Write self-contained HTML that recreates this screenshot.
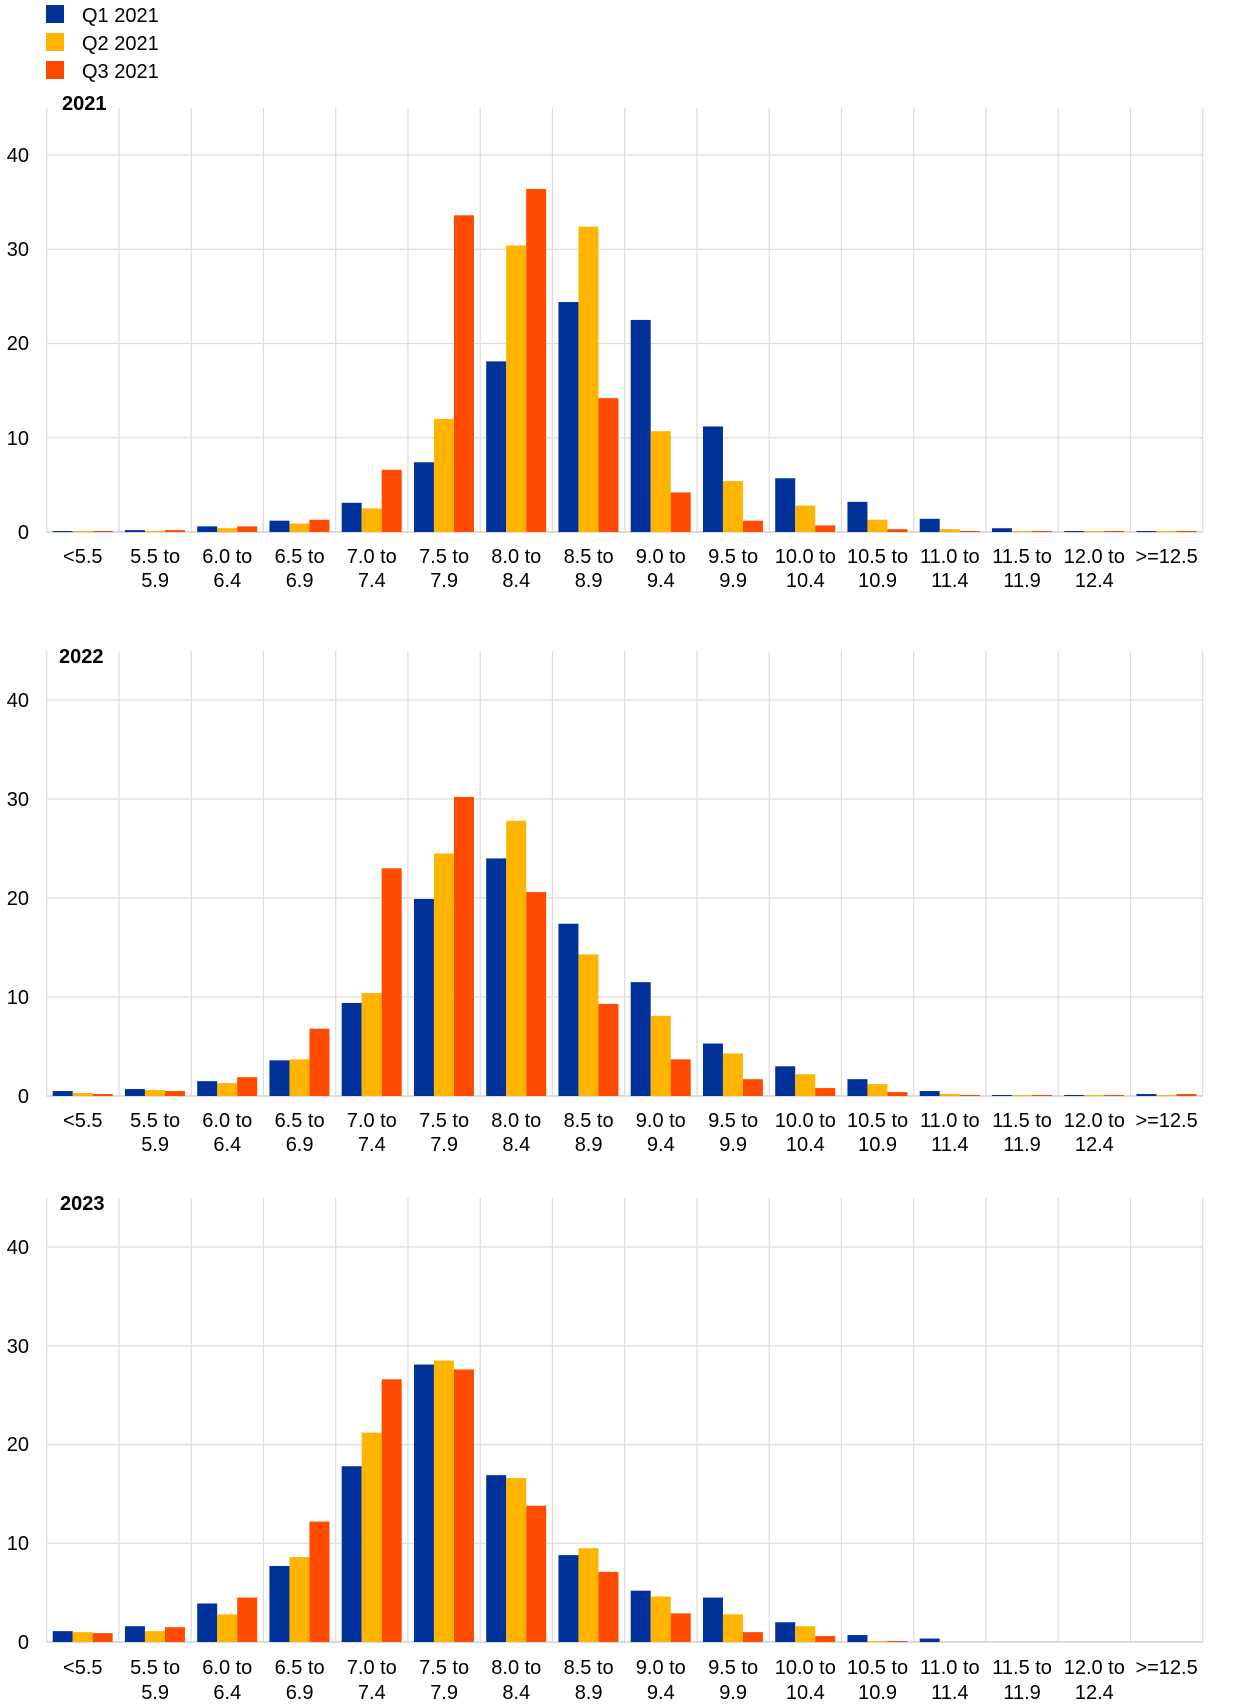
<!DOCTYPE html>
<html><head><meta charset="utf-8"><style>
html,body{margin:0;padding:0;background:#fff;}
svg{display:block;}
text{font-family:"Liberation Sans",Arial,sans-serif;fill:#000;}
.t{font-size:20px;text-anchor:middle;}
.y{font-size:20px;text-anchor:end;}
.h{font-size:20px;font-weight:bold;}
</style></head><body>
<svg id="s" width="1240" height="1708" viewBox="0 0 1240 1708" xmlns="http://www.w3.org/2000/svg">
<rect x="46" y="5" width="18" height="18" fill="#003299"/>
<rect x="46" y="33" width="18" height="18" fill="#ffb400"/>
<rect x="46" y="61" width="18" height="18" fill="#ff4b00"/>
<text x="82" y="22" style="font-size:20px">Q1 2021</text>
<text x="82" y="50" style="font-size:20px">Q2 2021</text>
<text x="82" y="78" style="font-size:20px">Q3 2021</text>
<g id="grid"></g>
<g id="bars"></g>
<text class="h" x="62" y="110">2021</text>
<text class="h" x="59" y="663">2022</text>
<text class="h" x="60" y="1210">2023</text>
<g>
<text class="y" x="29" y="162">40</text><text class="y" x="29" y="256">30</text><text class="y" x="29" y="350">20</text><text class="y" x="29" y="445">10</text><text class="y" x="29" y="539">0</text>
</g>
<g>
<text class="y" x="29" y="707">40</text><text class="y" x="29" y="806">30</text><text class="y" x="29" y="905">20</text><text class="y" x="29" y="1004">10</text><text class="y" x="29" y="1103">0</text>
</g>
<g>
<text class="y" x="29" y="1254">40</text><text class="y" x="29" y="1353">30</text><text class="y" x="29" y="1451">20</text><text class="y" x="29" y="1550">10</text><text class="y" x="29" y="1649">0</text>
</g>
<g transform="translate(0,532)">
<text class="t" x="82.8" y="31">&lt;5.5</text>
<text class="t" x="155.1" y="31">5.5 to</text><text class="t" x="155.1" y="55">5.9</text>
<text class="t" x="227.3" y="31">6.0 to</text><text class="t" x="227.3" y="55">6.4</text>
<text class="t" x="299.6" y="31">6.5 to</text><text class="t" x="299.6" y="55">6.9</text>
<text class="t" x="371.8" y="31">7.0 to</text><text class="t" x="371.8" y="55">7.4</text>
<text class="t" x="444.1" y="31">7.5 to</text><text class="t" x="444.1" y="55">7.9</text>
<text class="t" x="516.3" y="31">8.0 to</text><text class="t" x="516.3" y="55">8.4</text>
<text class="t" x="588.6" y="31">8.5 to</text><text class="t" x="588.6" y="55">8.9</text>
<text class="t" x="660.8" y="31">9.0 to</text><text class="t" x="660.8" y="55">9.4</text>
<text class="t" x="733.1" y="31">9.5 to</text><text class="t" x="733.1" y="55">9.9</text>
<text class="t" x="805.3" y="31">10.0 to</text><text class="t" x="805.3" y="55">10.4</text>
<text class="t" x="877.6" y="31">10.5 to</text><text class="t" x="877.6" y="55">10.9</text>
<text class="t" x="949.8" y="31">11.0 to</text><text class="t" x="949.8" y="55">11.4</text>
<text class="t" x="1022.1" y="31">11.5 to</text><text class="t" x="1022.1" y="55">11.9</text>
<text class="t" x="1094.3" y="31">12.0 to</text><text class="t" x="1094.3" y="55">12.4</text>
<text class="t" x="1166.6" y="31">&gt;=12.5</text>
</g>
<g transform="translate(0,1096)">
<text class="t" x="82.8" y="31">&lt;5.5</text>
<text class="t" x="155.1" y="31">5.5 to</text><text class="t" x="155.1" y="55">5.9</text>
<text class="t" x="227.3" y="31">6.0 to</text><text class="t" x="227.3" y="55">6.4</text>
<text class="t" x="299.6" y="31">6.5 to</text><text class="t" x="299.6" y="55">6.9</text>
<text class="t" x="371.8" y="31">7.0 to</text><text class="t" x="371.8" y="55">7.4</text>
<text class="t" x="444.1" y="31">7.5 to</text><text class="t" x="444.1" y="55">7.9</text>
<text class="t" x="516.3" y="31">8.0 to</text><text class="t" x="516.3" y="55">8.4</text>
<text class="t" x="588.6" y="31">8.5 to</text><text class="t" x="588.6" y="55">8.9</text>
<text class="t" x="660.8" y="31">9.0 to</text><text class="t" x="660.8" y="55">9.4</text>
<text class="t" x="733.1" y="31">9.5 to</text><text class="t" x="733.1" y="55">9.9</text>
<text class="t" x="805.3" y="31">10.0 to</text><text class="t" x="805.3" y="55">10.4</text>
<text class="t" x="877.6" y="31">10.5 to</text><text class="t" x="877.6" y="55">10.9</text>
<text class="t" x="949.8" y="31">11.0 to</text><text class="t" x="949.8" y="55">11.4</text>
<text class="t" x="1022.1" y="31">11.5 to</text><text class="t" x="1022.1" y="55">11.9</text>
<text class="t" x="1094.3" y="31">12.0 to</text><text class="t" x="1094.3" y="55">12.4</text>
<text class="t" x="1166.6" y="31">&gt;=12.5</text>
</g>
<g transform="translate(0,1642)">
<text class="t" x="82.8" y="32">&lt;5.5</text>
<text class="t" x="155.1" y="32">5.5 to</text><text class="t" x="155.1" y="57">5.9</text>
<text class="t" x="227.3" y="32">6.0 to</text><text class="t" x="227.3" y="57">6.4</text>
<text class="t" x="299.6" y="32">6.5 to</text><text class="t" x="299.6" y="57">6.9</text>
<text class="t" x="371.8" y="32">7.0 to</text><text class="t" x="371.8" y="57">7.4</text>
<text class="t" x="444.1" y="32">7.5 to</text><text class="t" x="444.1" y="57">7.9</text>
<text class="t" x="516.3" y="32">8.0 to</text><text class="t" x="516.3" y="57">8.4</text>
<text class="t" x="588.6" y="32">8.5 to</text><text class="t" x="588.6" y="57">8.9</text>
<text class="t" x="660.8" y="32">9.0 to</text><text class="t" x="660.8" y="57">9.4</text>
<text class="t" x="733.1" y="32">9.5 to</text><text class="t" x="733.1" y="57">9.9</text>
<text class="t" x="805.3" y="32">10.0 to</text><text class="t" x="805.3" y="57">10.4</text>
<text class="t" x="877.6" y="32">10.5 to</text><text class="t" x="877.6" y="57">10.9</text>
<text class="t" x="949.8" y="32">11.0 to</text><text class="t" x="949.8" y="57">11.4</text>
<text class="t" x="1022.1" y="32">11.5 to</text><text class="t" x="1022.1" y="57">11.9</text>
<text class="t" x="1094.3" y="32">12.0 to</text><text class="t" x="1094.3" y="57">12.4</text>
<text class="t" x="1166.6" y="32">&gt;=12.5</text>
</g>
</svg>
<script>
var NS="http://www.w3.org/2000/svg";
function el(p,n,a){var e=document.createElementNS(NS,n);for(var k in a)e.setAttribute(k,a[k]);p.appendChild(e);return e;}
var panels=[
 {top:108,base:532,u:9.425,d:[[0.1,0.05,0.1],[0.2,0.1,0.2],[0.6,0.4,0.6],[1.2,0.9,1.3],[3.1,2.5,6.6],[7.4,12,33.6],[18.1,30.4,36.4],[24.4,32.4,14.2],[22.5,10.7,4.2],[11.2,5.4,1.2],[5.7,2.8,0.7],[3.2,1.3,0.3],[1.4,0.3,0.05],[0.4,0.05,0.05],[0.1,0.05,0.05],[0.1,0.05,0.1]]},
 {top:651,base:1096,u:9.9,d:[[0.5,0.3,0.2],[0.7,0.6,0.5],[1.5,1.3,1.9],[3.6,3.7,6.8],[9.4,10.4,23.0],[19.9,24.5,30.2],[24.0,27.8,20.6],[17.4,14.3,9.3],[11.5,8.1,3.7],[5.3,4.3,1.7],[3.0,2.2,0.8],[1.7,1.2,0.4],[0.5,0.2,0.1],[0.1,0.1,0.05],[0.05,0.05,0.05],[0.2,0.1,0.2]]},
 {top:1198,base:1642,u:9.875,d:[[1.1,1.0,0.9],[1.6,1.1,1.5],[3.9,2.8,4.5],[7.7,8.6,12.2],[17.8,21.2,26.6],[28.1,28.5,27.6],[16.9,16.6,13.8],[8.8,9.5,7.1],[5.2,4.6,2.9],[4.5,2.8,1.0],[2.0,1.6,0.6],[0.7,0.1,0.05],[0.35,0,0],[0,0,0],[0,0,0],[0,0,0]]}
];
var g=document.getElementById("grid"),b=document.getElementById("bars");
var x0=46.7,w=72.25,cols=["#003299","#ffb400","#ff4b00"];
panels.forEach(function(p){
 for(var i=0;i<=16;i++){var x=x0+i*w;el(g,"line",{x1:x,x2:x,y1:p.top,y2:p.base,stroke:"#dcdcdc","stroke-width":1.2});}
 for(var v=10;v<=40;v+=10){var y=p.base-v*p.u;el(g,"line",{x1:x0,x2:x0+16*w,y1:y,y2:y,stroke:"#dcdcdc","stroke-width":1.2});}
 el(g,"line",{x1:x0,x2:x0+16*w,y1:p.base,y2:p.base,stroke:"#cfcfcf","stroke-width":1.5});
 p.d.forEach(function(vals,i){vals.forEach(function(v,j){if(v<=0)return;var h=Math.max(v*p.u,1);
  el(b,"rect",{x:x0+i*w+6+j*20,y:p.base-h,width:20,height:h,fill:cols[j]});});});
});
</script>
</body></html>
